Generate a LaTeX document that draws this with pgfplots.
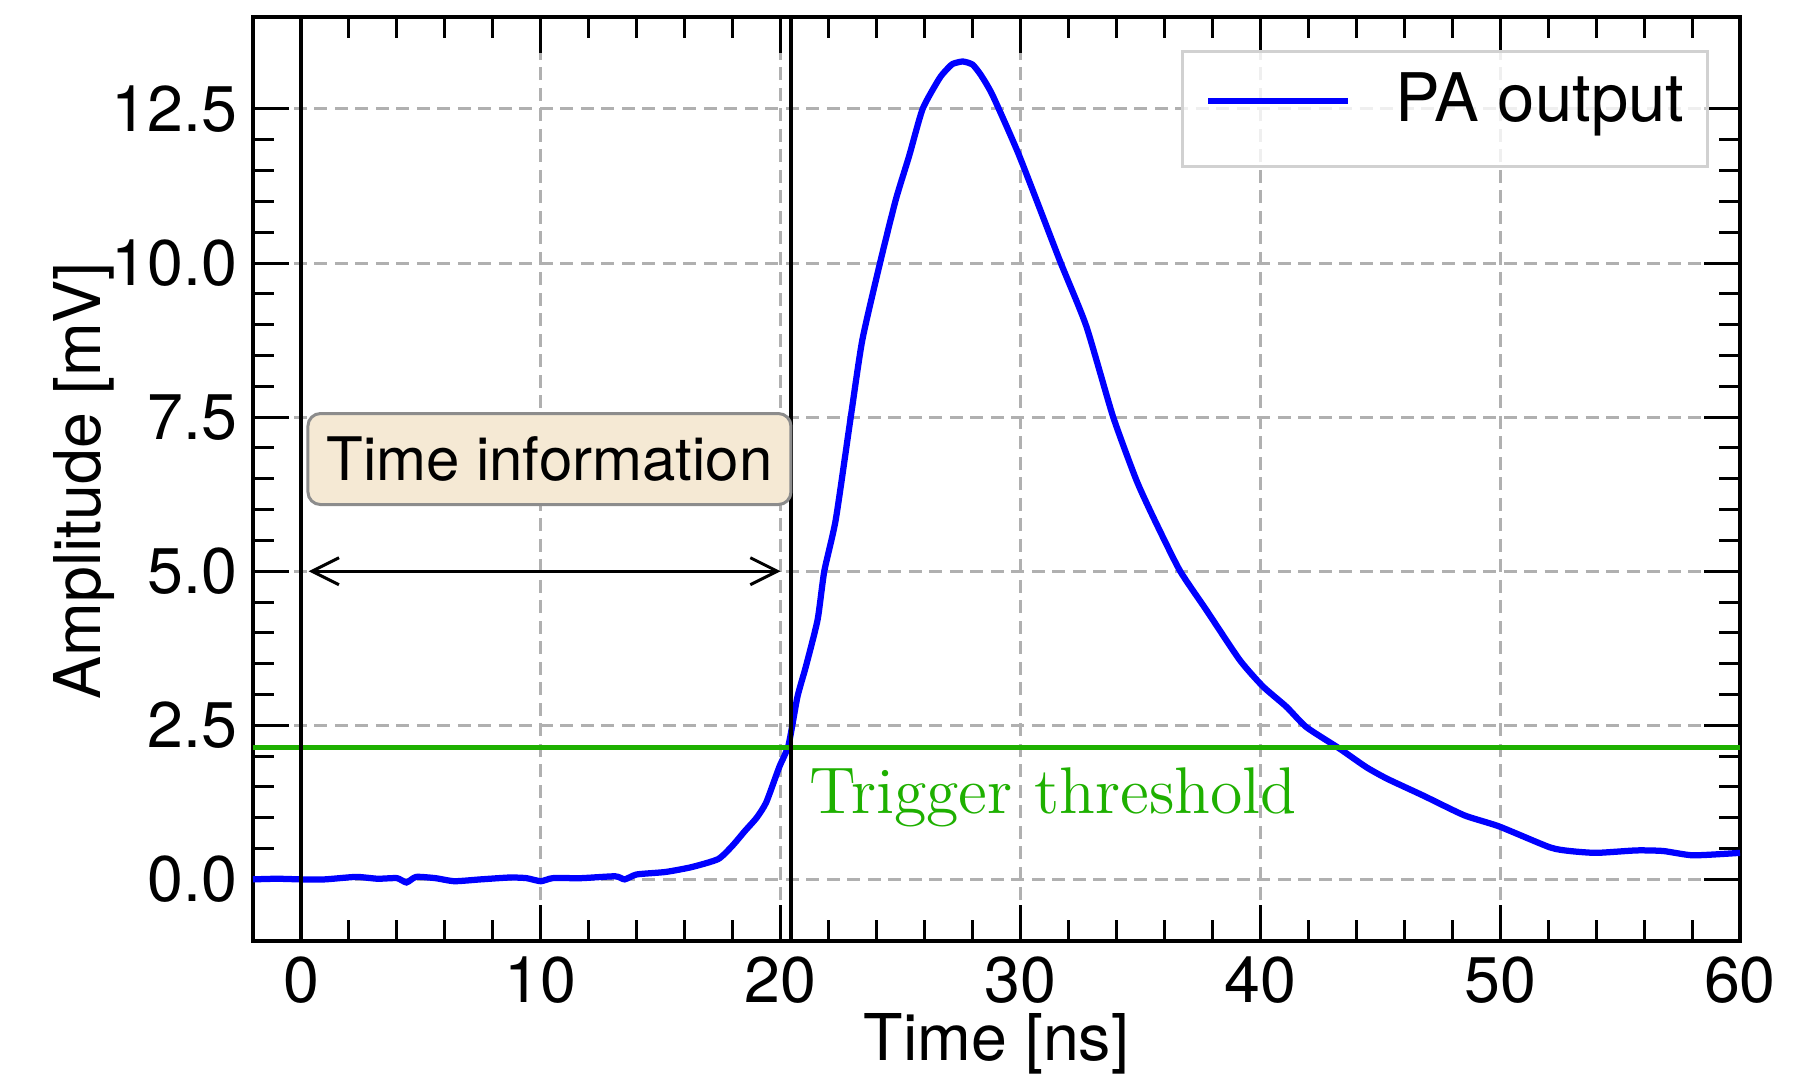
\documentclass[border=0pt]{standalone}
\usepackage{pgfplots}
\usepackage{pgfplotstable}
\pgfplotsset{compat=1.18}
\usetikzlibrary{arrows.meta}
\usepackage{fontspec}
\setmainfont{TeX Gyre Heros}
\newfontfamily\lmr{Latin Modern Roman}
\definecolor{trig}{RGB}{30,176,0}
\definecolor{boxfill}{RGB}{245,233,212}
\definecolor{gridc}{RGB}{176,176,176}
\newcommand\tfont{\fontsize{12.9}{15}\selectfont}

\pgfplotstableread{
t a
-2.0 0.00
-1.0 0.01
0.0 0.00
1.0 0.00
2.3 0.04
3.2 0.01
4.0 0.02
4.4 -0.05
4.8 0.04
5.6 0.02
6.4 -0.03
7.5 0.00
8.7 0.03
9.4 0.02
10.0 -0.03
10.5 0.02
11.7 0.02
13.1 0.05
13.5 0.00
14.0 0.08
15.2 0.12
16.3 0.20
17.4 0.33
18.0 0.55
18.5 0.78
19.0 1.00
19.4 1.25
19.94 1.82
20.33 2.18
20.7 2.96
21.05 3.45
21.54 4.21
21.82 5.00
22.3 5.84
22.93 7.52
23.41 8.76
24.18 10.06
24.81 11.04
25.36 11.74
25.92 12.50
26.61 12.99
26.9 13.13
27.17 13.23
27.59 13.27
28.0 13.22
28.35 13.05
28.84 12.72
29.95 11.74
31.62 10.06
32.74 8.98
33.85 7.52
34.82 6.49
35.52 5.89
36.63 5.02
37.75 4.37
39.14 3.56
40.11 3.13
41.09 2.80
41.92 2.47
43.31 2.12
44.42 1.82
45.3 1.63
46.79 1.36
48.5 1.04
49.95 0.86
52.07 0.52
52.91 0.46
54.02 0.43
55.69 0.47
56.8 0.46
58.05 0.39
60.0 0.43
}\pulse

\begin{document}
\begin{tikzpicture}
\begin{axis}[
  at={(0,0)}, anchor=south west,
  scale only axis, width=297.4pt, height=184.9pt,
  xmin=-2, xmax=60, ymin=-1, ymax=14,
  xtick={0,10,...,60}, ytick={0,2.5,...,12.5},
  minor x tick num=4, minor y tick num=4,
  tick align=inside, tick pos=both,
  major tick length=7.2pt, minor tick length=4.2pt,
  every tick/.style={black, line width=0.6pt},
  axis line style={line width=0.8pt},
  grid=major,
  major grid style={gridc, line width=0.6pt, dash pattern=on 2.6pt off 1.5pt},
  /pgf/number format/assume math mode=true,
  tick label style={font=\tfont},
  xticklabel style={anchor=base, yshift=-12.2pt},
  yticklabel style={anchor=east, inner sep=0pt, xshift=-3pt,
    /pgf/number format/fixed, /pgf/number format/fixed zerofill,
    /pgf/number format/precision=1},
  clip=false,
  legend style={at={(0.979,0.964)}, anchor=north east, draw=black!18,
    line width=0.6pt, fill=white, fill opacity=0.8, draw opacity=1,
    text opacity=1, inner xsep=4.6pt, inner ysep=0pt,
    nodes={inner sep=0pt, font=\fontsize{13.4}{15}\selectfont}},
  legend image code/.code={\draw[#1] (0pt,0pt) -- (27.9pt,0pt);
    \path[draw=none, fill=none] (-0.6pt,-13.2pt) rectangle (37.4pt,9.9pt);},
]
\addplot[blue, line width=1.25pt, smooth, tension=0.35] table[x=t, y=a] {\pulse};
\addlegendentry{PA output}
\addplot[trig, line width=1pt, forget plot] coordinates {(-2,2.14) (60,2.14)};
\addplot[black, line width=0.7pt, forget plot] coordinates {(0,-1) (0,14)};
\addplot[black, line width=0.7pt, forget plot] coordinates {(20.43,-1) (20.43,14)};
\draw[{Straight Barb[length=5.4pt,width=5.4pt]}-{Straight Barb[length=5.4pt,width=5.4pt]}, line width=0.6pt]
  (axis cs:0.32,5) -- (axis cs:20.0,5);
\node[draw=black!45, line width=0.6pt, fill=boxfill, rounded corners=2.5pt,
  minimum width=96.6pt, minimum height=18.2pt, inner sep=0pt,
  font=\fontsize{12}{14}\selectfont] at (axis cs:10.36,6.82) {Time information};
\node[anchor=base west, inner sep=0pt, text=trig,
  font=\lmr\fontsize{13.2}{15}\selectfont] at (axis cs:21.18,1.07) {Trigger threshold};
\end{axis}
\node[font=\tfont, anchor=base] at (148.7pt,-23.9pt) {Time [ns]};
\node[font=\tfont, rotate=90, anchor=base] at (-30.4pt,92pt) {Amplitude [mV]};
\pgfresetboundingbox
\useasboundingbox (-50.6pt,-26.8pt) rectangle (309.2pt,188.2pt);
\end{tikzpicture}
\end{document}
